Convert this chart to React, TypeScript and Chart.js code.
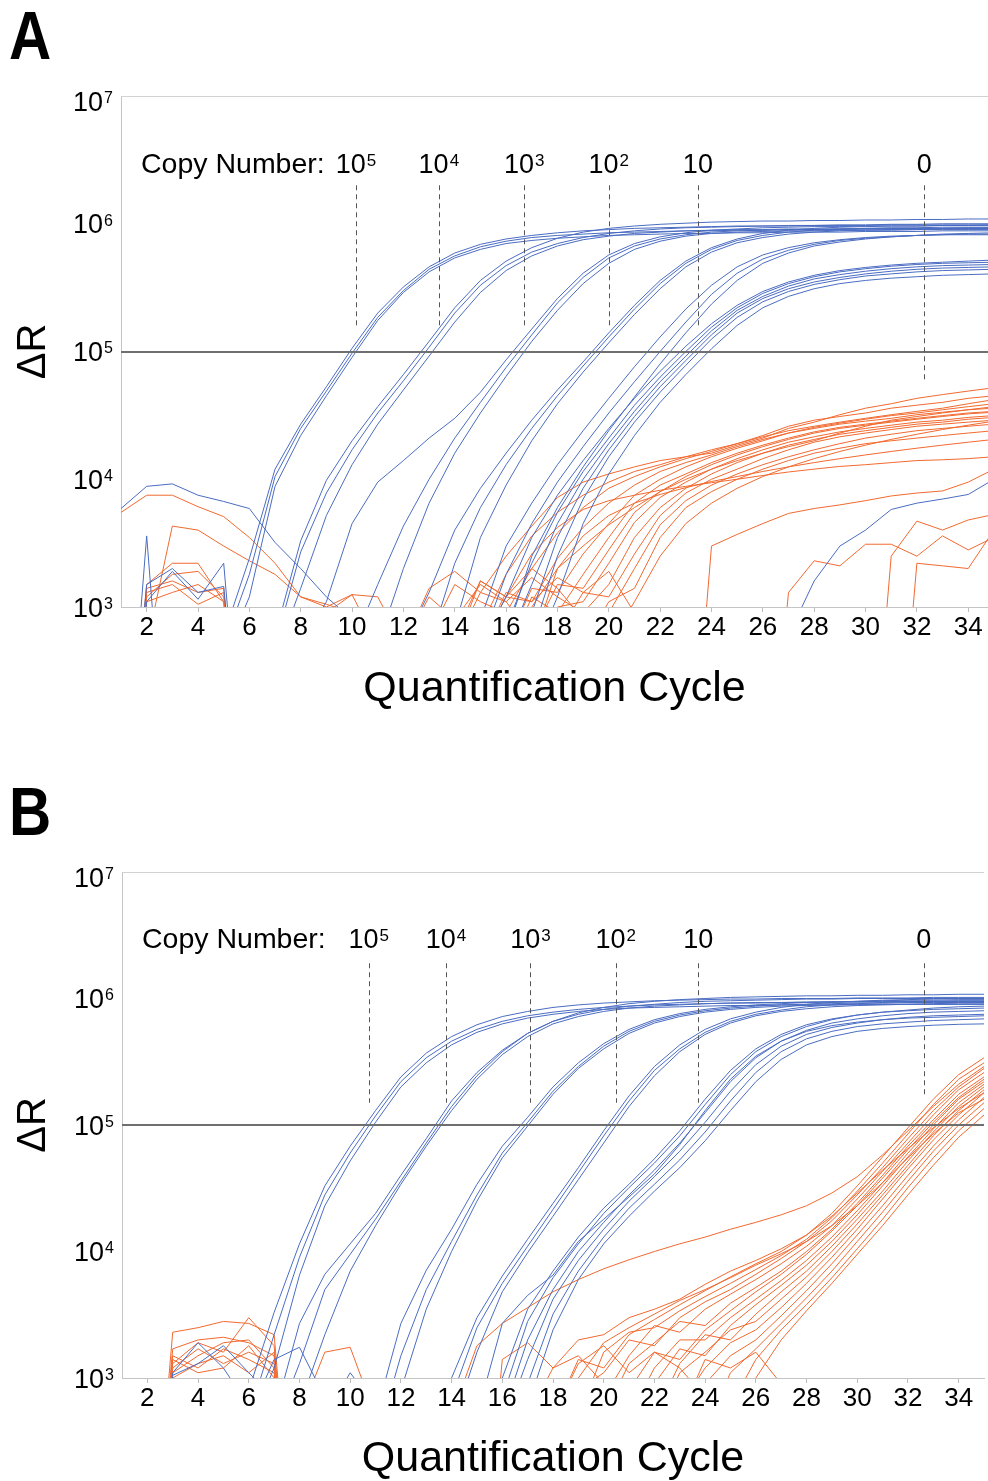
import { useEffect, useRef } from 'react';
import { Chart, registerables } from 'chart.js';

Chart.register(...registerables);

const FONT = "'Liberation Sans', Arial, Helvetica, sans-serif";
const BLUE = '#4a6cc2';
const ORANGE = '#f2692f';

type Curve = { start: number; values: number[] };

// ---- shared axis values ----
const X_TICKS = [2, 4, 6, 8, 10, 12, 14, 16, 18, 20, 22, 24, 26, 28, 30, 32, 34];
const Y_TICKS = [1e3, 1e4, 1e5, 1e6, 1e7];
const THRESHOLD = 1e5;
const LABEL_LEVEL = 2.5e6;
const COPY_BASE = ['10', '10', '10', '10', '10', '0'];
const COPY_EXP = ['5', '4', '3', '2', '', ''];

// ---- panel A: copy-number markers ----
const CQ_A = [10.15, 13.38, 16.71, 20.0, 23.47, 32.29];
const DASH_TOP_A = 2.0e6;
const DASH_BOTTOM_A = [1.6e5, 1.6e5, 1.6e5, 1.6e5, 1.6e5, 5.8e4];

// ---- panel A: standards (blue) ----
const A_BLUE_01: Curve = { start: 5, values: [600, 2.4e3, 1.2e4, 2.7e4, 5.3e4, 1.06e5, 2.0e5, 3.2e5, 4.6e5, 5.9e5, 6.9e5, 7.6e5, 8.1e5, 8.5e5, 8.8e5, 9.0e5, 9.2e5, 9.3e5, 9.4e5, 9.5e5, 9.6e5, 9.6e5, 9.7e5, 9.7e5, 9.8e5, 9.8e5, 9.9e5, 9.9e5, 1.0e6, 1.0e6, 1.0e6] };
const A_BLUE_02: Curve = { start: 5, values: [500, 1.8e3, 1.05e4, 2.5e4, 4.9e4, 9.7e4, 1.85e5, 3.0e5, 4.4e5, 5.6e5, 6.6e5, 7.3e5, 7.8e5, 8.1e5, 8.3e5, 8.5e5, 8.6e5, 8.7e5, 8.8e5, 8.8e5, 8.9e5, 8.9e5, 9.0e5, 9.0e5, 9.0e5, 9.1e5, 9.1e5, 9.1e5, 9.2e5, 9.2e5, 9.2e5] };
const A_BLUE_03: Curve = { start: 5, values: [400, 1.2e3, 8.8e3, 2.2e4, 4.5e4, 9.0e4, 1.75e5, 2.9e5, 4.2e5, 5.4e5, 6.3e5, 7.0e5, 7.4e5, 7.7e5, 7.9e5, 8.1e5, 8.2e5, 8.3e5, 8.4e5, 8.4e5, 8.5e5, 8.5e5, 8.6e5, 8.6e5, 8.6e5, 8.7e5, 8.7e5, 8.7e5, 8.8e5, 8.8e5, 8.8e5] };
const A_BLUE_04: Curve = { start: 7, values: [600, 3.3e3, 9.8e3, 2.0e4, 3.7e4, 6.6e4, 1.2e5, 2.2e5, 3.6e5, 5.1e5, 6.5e5, 7.7e5, 8.6e5, 9.2e5, 9.6e5, 9.9e5, 1.01e6, 1.03e6, 1.04e6, 1.05e6, 1.05e6, 1.06e6, 1.06e6, 1.07e6, 1.07e6, 1.08e6, 1.08e6, 1.09e6, 1.09e6] };
const A_BLUE_05: Curve = { start: 7, values: [500, 2.7e3, 7.8e3, 1.7e4, 3.3e4, 5.9e4, 1.08e5, 2.0e5, 3.3e5, 4.7e5, 6.0e5, 7.0e5, 7.8e5, 8.4e5, 8.8e5, 9.1e5, 9.3e5, 9.4e5, 9.5e5, 9.6e5, 9.6e5, 9.7e5, 9.7e5, 9.7e5, 9.8e5, 9.8e5, 9.8e5, 9.8e5, 9.8e5] };
const A_BLUE_06: Curve = { start: 7, values: [400, 1.4e3, 5.2e3, 1.3e4, 2.7e4, 5.0e4, 9.2e4, 1.7e5, 2.9e5, 4.3e5, 5.6e5, 6.7e5, 7.5e5, 8.0e5, 8.4e5, 8.6e5, 8.8e5, 8.9e5, 9.0e5, 9.0e5, 9.1e5, 9.1e5, 9.1e5, 9.2e5, 9.2e5, 9.2e5, 9.2e5, 9.3e5, 9.3e5] };
const A_BLUE_07: Curve = { start: 8, values: [500, 1.1e3, 4.5e3, 9.5e3, 1.4e4, 2.1e4, 3.0e4, 4.8e4, 8.6e4, 1.5e5, 2.6e5, 4.1e5, 5.7e5, 7.0e5, 7.9e5, 8.5e5, 8.9e5, 9.1e5, 9.3e5, 9.4e5, 9.5e5, 9.5e5, 9.6e5, 9.6e5, 9.6e5, 9.7e5, 9.7e5, 9.7e5] };
const A_BLUE_08: Curve = { start: 10, values: [500, 1.5e3, 4.3e3, 1.0e4, 2.1e4, 4.0e4, 7.5e4, 1.35e5, 2.4e5, 3.8e5, 5.4e5, 6.7e5, 7.6e5, 8.2e5, 8.6e5, 8.8e5, 8.9e5, 9.0e5, 9.0e5, 9.1e5, 9.1e5, 9.1e5, 9.2e5, 9.2e5, 9.2e5, 9.2e5] };
const A_BLUE_09: Curve = { start: 11, values: [500, 2.0e3, 6.5e3, 1.6e4, 3.3e4, 6.4e4, 1.2e5, 2.1e5, 3.4e5, 4.9e5, 6.3e5, 7.3e5, 8.0e5, 8.4e5, 8.6e5, 8.7e5, 8.8e5, 8.8e5, 8.9e5, 8.9e5, 8.9e5, 9.0e5, 9.0e5, 9.0e5, 9.0e5] };
const A_BLUE_10: Curve = { start: 12, values: [500, 1.3e3, 4.0e3, 8.5e3, 1.6e4, 2.9e4, 5.0e4, 8.3e4, 1.4e5, 2.3e5, 3.6e5, 5.1e5, 6.5e5, 7.6e5, 8.4e5, 8.9e5, 9.2e5, 9.4e5, 9.5e5, 9.6e5, 9.6e5, 9.7e5, 9.7e5, 9.8e5] };
const A_BLUE_11: Curve = { start: 13, values: [500, 2.2e3, 6.0e3, 1.3e4, 2.5e4, 4.5e4, 7.7e4, 1.3e5, 2.15e5, 3.4e5, 4.9e5, 6.3e5, 7.4e5, 8.1e5, 8.6e5, 8.9e5, 9.1e5, 9.2e5, 9.3e5, 9.3e5, 9.4e5, 9.4e5, 9.4e5] };
const A_BLUE_12: Curve = { start: 14, values: [700, 3.5e3, 9.0e3, 2.0e4, 3.9e4, 6.9e4, 1.17e5, 1.95e5, 3.1e5, 4.6e5, 6.0e5, 7.1e5, 7.8e5, 8.3e5, 8.6e5, 8.8e5, 8.9e5, 9.0e5, 9.0e5, 9.1e5, 9.1e5, 9.1e5] };
const A_BLUE_13: Curve = { start: 15, values: [500, 1.8e3, 4.5e3, 9.5e3, 1.8e4, 3.3e4, 5.8e4, 1.0e5, 1.7e5, 2.8e5, 4.1e5, 5.3e5, 6.2e5, 6.9e5, 7.4e5, 7.7e5, 7.9e5, 8.1e5, 8.2e5, 8.3e5, 8.3e5] };
const A_BLUE_14: Curve = { start: 16, values: [600, 2.5e3, 6.0e3, 1.25e4, 2.4e4, 4.4e4, 8.0e4, 1.4e5, 2.35e5, 3.6e5, 4.9e5, 5.9e5, 6.7e5, 7.2e5, 7.6e5, 7.9e5, 8.1e5, 8.3e5, 8.4e5, 8.5e5] };
const A_BLUE_15: Curve = { start: 15, values: [800, 3.0e3, 6.5e3, 1.3e4, 2.4e4, 4.3e4, 7.6e4, 1.3e5, 2.15e5, 3.3e5, 4.6e5, 5.7e5, 6.5e5, 7.1e5, 7.5e5, 7.8e5, 8.0e5, 8.1e5, 8.2e5, 8.2e5, 8.2e5] };
const A_BLUE_16: Curve = { start: 15, values: [500, 1.2e3, 3.5e3, 7.5e3, 1.4e4, 2.5e4, 4.3e4, 7.0e4, 1.1e5, 1.65e5, 2.3e5, 2.95e5, 3.5e5, 3.95e5, 4.3e5, 4.55e5, 4.75e5, 4.9e5, 5.0e5, 5.1e5, 5.2e5] };
const A_BLUE_17: Curve = { start: 16, values: [700, 2.2e3, 5.5e3, 1.15e4, 2.1e4, 3.8e4, 6.3e4, 1.0e5, 1.55e5, 2.2e5, 2.85e5, 3.4e5, 3.85e5, 4.2e5, 4.45e5, 4.65e5, 4.8e5, 4.9e5, 4.95e5, 5.0e5] };
const A_BLUE_18: Curve = { start: 16, values: [500, 1.5e3, 4.5e3, 1.0e4, 1.9e4, 3.4e4, 5.8e4, 9.2e4, 1.45e5, 2.1e5, 2.7e5, 3.25e5, 3.7e5, 4.0e5, 4.25e5, 4.45e5, 4.6e5, 4.7e5, 4.75e5, 4.8e5] };
const A_BLUE_19: Curve = { start: 17, values: [900, 3.5e3, 8.5e3, 1.7e4, 3.1e4, 5.3e4, 8.5e4, 1.35e5, 2.0e5, 2.6e5, 3.1e5, 3.5e5, 3.8e5, 4.05e5, 4.25e5, 4.4e5, 4.5e5, 4.55e5, 4.6e5] };
const A_BLUE_20: Curve = { start: 17, values: [600, 2.5e3, 7.0e3, 1.5e4, 2.8e4, 4.8e4, 7.8e4, 1.25e5, 1.85e5, 2.45e5, 2.95e5, 3.35e5, 3.65e5, 3.9e5, 4.05e5, 4.2e5, 4.3e5, 4.35e5, 4.4e5] };
const A_BLUE_21: Curve = { start: 17, values: [400, 1.2e3, 4.5e3, 1.1e4, 2.2e4, 4.0e4, 6.6e4, 1.05e5, 1.6e5, 2.2e5, 2.7e5, 3.1e5, 3.4e5, 3.6e5, 3.75e5, 3.85e5, 3.95e5, 4.0e5, 4.05e5] };
const A_BLUE_22: Curve = { start: 1, values: [5.9e3, 8.8e3, 9.2e3, 7.5e3, 6.7e3, 5.9e3, 3.2e3, 2.0e3, 1.2e3, 800, 500] };
const A_BLUE_23: Curve = { start: 27, values: [600, 1.6e3, 3.0e3, 4.0e3, 5.8e3, 6.5e3, 7.0e3, 7.6e3, 1.0e4] };
const A_BLUE_24: Curve = { start: 1, values: [10, 3.6e3, 10] };
const A_BLUE_25: Curve = { start: 1, values: [10, 1.5e3, 2.0e3, 1.3e3, 1.45e3, 10] };
const A_BLUE_26: Curve = { start: 1, values: [10, 1.1e3, 1.9e3, 1.15e3, 2.2e3, 10] };

// ---- panel A: no-template / background (orange) ----
const A_ORANGE_01: Curve = { start: 14, values: [500, 1.3e3, 2.5e3, 4.3e3, 7.2e3, 9.5e3, 1.1e4, 1.25e4, 1.4e4, 1.5e4, 1.6e4, 1.85e4, 2.1e4, 2.5e4, 2.8e4, 3.2e4, 3.6e4, 3.9e4, 4.3e4, 4.6e4, 4.9e4, 5.2e4] };
const A_ORANGE_02: Curve = { start: 15, values: [700, 1.8e3, 3.6e3, 5.5e3, 7.5e3, 9.5e3, 1.15e4, 1.3e4, 1.5e4, 1.7e4, 1.9e4, 2.2e4, 2.6e4, 2.9e4, 3.1e4, 3.3e4, 3.6e4, 3.8e4, 4.0e4, 4.3e4, 4.5e4] };
const A_ORANGE_03: Curve = { start: 13, values: [600, 1.5e3, 1.1e3, 900, 2.0e3, 3.8e3, 6.0e3, 8.5e3, 1.05e4, 1.25e4, 1.45e4, 1.65e4, 1.9e4, 2.15e4, 2.4e4, 2.6e4, 2.8e4, 3.0e4, 3.2e4, 3.4e4, 3.6e4, 3.9e4, 4.2e4] };
const A_ORANGE_04: Curve = { start: 14, values: [500, 1.6e3, 1.2e3, 1.1e3, 2.4e3, 4.2e3, 6.5e3, 9.0e3, 1.15e4, 1.35e4, 1.55e4, 1.8e4, 2.05e4, 2.3e4, 2.55e4, 2.75e4, 2.95e4, 3.15e4, 3.3e4, 3.5e4, 3.7e4, 3.9e4] };
const A_ORANGE_05: Curve = { start: 16, values: [500, 1.4e3, 1.3e3, 2.6e3, 4.5e3, 7.5e3, 1.0e4, 1.25e4, 1.5e4, 1.75e4, 2.0e4, 2.3e4, 2.5e4, 2.7e4, 2.85e4, 3.0e4, 3.2e4, 3.35e4, 3.5e4, 3.6e4] };
const A_ORANGE_06: Curve = { start: 16, values: [400, 1.2e3, 900, 1.8e3, 3.5e3, 6.5e3, 9.0e3, 1.1e4, 1.35e4, 1.6e4, 1.85e4, 2.1e4, 2.35e4, 2.55e4, 2.7e4, 2.85e4, 3.0e4, 3.15e4, 3.3e4, 3.4e4] };
const A_ORANGE_07: Curve = { start: 17, values: [600, 1.5e3, 1.4e3, 2.8e3, 5.5e3, 8.0e3, 1.05e4, 1.3e4, 1.55e4, 1.8e4, 2.05e4, 2.3e4, 2.5e4, 2.65e4, 2.8e4, 2.95e4, 3.1e4, 3.25e4, 3.35e4] };
const A_ORANGE_08: Curve = { start: 17, values: [500, 1.0e3, 1.1e3, 2.2e3, 4.6e3, 7.2e3, 9.5e3, 1.2e4, 1.45e4, 1.7e4, 1.95e4, 2.15e4, 2.35e4, 2.5e4, 2.65e4, 2.8e4, 2.9e4, 3.05e4, 3.15e4] };
const A_ORANGE_09: Curve = { start: 12, values: [500, 1.2e3, 800, 1.5e3, 1.1e3, 1.7e3, 1.2e3, 900, 1.5e3, 3.5e3, 6.0e3, 8.5e3, 1.1e4, 1.35e4, 1.6e4, 1.85e4, 2.05e4, 2.25e4, 2.4e4, 2.55e4, 2.7e4, 2.8e4, 2.95e4, 3.05e4] };
const A_ORANGE_10: Curve = { start: 18, values: [600, 1.3e3, 1.2e3, 2.6e3, 5.2e3, 7.8e3, 1.0e4, 1.2e4, 1.45e4, 1.7e4, 1.95e4, 2.15e4, 2.3e4, 2.45e4, 2.6e4, 2.7e4, 2.8e4, 2.9e4] };
const A_ORANGE_11: Curve = { start: 18, values: [400, 900, 900, 2.0e3, 4.4e3, 6.8e3, 9.0e3, 1.1e4, 1.3e4, 1.5e4, 1.7e4, 1.9e4, 2.1e4, 2.25e4, 2.4e4, 2.5e4, 2.6e4, 2.7e4] };
const A_ORANGE_12: Curve = { start: 19, values: [500, 1.1e3, 1.4e3, 3.5e3, 6.0e3, 8.0e3, 1.0e4, 1.2e4, 1.4e4, 1.6e4, 1.75e4, 1.9e4, 2.0e4, 2.1e4, 2.2e4, 2.3e4, 2.4e4] };
const A_ORANGE_13: Curve = { start: 16, values: [500, 1.0e3, 2.0e3, 3.6e3, 5.2e3, 6.5e3, 7.6e3, 8.6e3, 9.6e3, 1.05e4, 1.15e4, 1.25e4, 1.35e4, 1.45e4, 1.55e4, 1.65e4, 1.75e4, 1.85e4, 1.95e4, 2.05e4] };
const A_ORANGE_14: Curve = { start: 15, values: [500, 1.2e3, 2.6e3, 4.2e3, 5.8e3, 6.8e3, 7.5e3, 8.2e3, 8.8e3, 9.4e3, 1.0e4, 1.07e4, 1.14e4, 1.2e4, 1.26e4, 1.3e4, 1.35e4, 1.4e4, 1.42e4, 1.45e4, 1.5e4] };
const A_ORANGE_15: Curve = { start: 20, values: [500, 1.1e3, 2.5e3, 4.5e3, 6.5e3, 8.5e3, 1.05e4, 1.25e4, 1.45e4, 1.65e4, 1.85e4, 2.05e4, 2.25e4, 2.45e4, 2.65e4, 2.85e4] };
const A_ORANGE_16: Curve = { start: 23, values: [10, 3.0e3, 3.7e3, 4.5e3, 5.4e3, 5.9e3, 6.3e3, 6.8e3, 7.4e3, 7.8e3, 8.1e3, 9.5e3, 1.2e4] };
const A_ORANGE_17: Curve = { start: 26, values: [10, 1.3e3, 2.3e3, 2.1e3, 3.1e3, 3.1e3, 2.5e3, 3.6e3, 2.8e3, 3.5e3] };
const A_ORANGE_18: Curve = { start: 31, values: [10, 2.2e3, 2.1e3, 2.0e3, 4.0e3] };
const A_ORANGE_19: Curve = { start: 30, values: [10, 2.5e3, 4.7e3, 4.0e3, 4.8e3, 5.3e3] };
const A_ORANGE_20: Curve = { start: 17, values: [500, 2.0e3, 3.0e3, 4.4e3, 6.0e3, 8.0e3, 1.0e4, 1.2e4, 1.4e4, 1.6e4, 1.8e4, 2.0e4, 2.3e4, 2.6e4, 2.9e4, 3.1e4, 3.3e4, 3.5e4, 3.7e4] };
const A_ORANGE_21: Curve = { start: 1, values: [5.5e3, 7.5e3, 7.5e3, 6.1e3, 5.1e3, 3.5e3, 2.2e3, 1.2e3, 1.0e3, 1.25e3, 500] };
const A_ORANGE_22: Curve = { start: 2, values: [500, 4.3e3, 4.0e3, 3.0e3, 2.3e3, 1.8e3, 1.2e3, 1.05e3, 900, 500] };
const A_ORANGE_23: Curve = { start: 1, values: [10, 1.5e3, 2.2e3, 2.2e3, 1.1e3, 10] };
const A_ORANGE_24: Curve = { start: 1, values: [10, 1.2e3, 1.8e3, 1.9e3, 1.2e3, 10] };
const A_ORANGE_25: Curve = { start: 1, values: [10, 1.4e3, 1.6e3, 1.3e3, 1.4e3, 10] };
const A_ORANGE_26: Curve = { start: 1, values: [10, 1.1e3, 1.3e3, 1.5e3, 1.1e3, 10] };
const A_ORANGE_27: Curve = { start: 1, values: [10, 1.3e3, 1.5e3, 1.05e3, 1.3e3, 10] };
const A_ORANGE_28: Curve = { start: 8, values: [500, 900, 1.25e3, 1.2e3, 500] };
const A_ORANGE_29: Curve = { start: 12, values: [500, 1.4e3, 1.9e3, 1.3e3, 1.1e3, 600] };
const A_ORANGE_30: Curve = { start: 14, values: [600, 1.6e3, 1.2e3, 2.0e3, 1.4e3, 800] };
const A_ORANGE_31: Curve = { start: 15, values: [500, 1.3e3, 1.1e3, 1.7e3, 1.3e3, 1.9e3, 900] };

// ---- panel B: copy-number markers ----
const CQ_B = [10.73, 13.78, 17.11, 20.47, 23.73, 32.62];
const DASH_TOP_B = 1.9e6;
const DASH_BOTTOM_B = [1.5e5, 1.5e5, 1.5e5, 1.5e5, 1.5e5, 1.65e5];

// ---- panel B: standards (blue) ----
const B_BLUE_01: Curve = { start: 6, values: [800, 3.3e3, 1.15e4, 3.3e4, 6.8e4, 1.3e5, 2.4e5, 3.7e5, 5.0e5, 6.2e5, 7.2e5, 7.9e5, 8.5e5, 8.9e5, 9.2e5, 9.4e5, 9.6e5, 9.7e5, 9.8e5, 9.9e5, 9.9e5, 1.0e6, 1.0e6, 1.0e6, 1.01e6, 1.01e6, 1.01e6, 1.02e6, 1.02e6, 1.02e6] };
const B_BLUE_02: Curve = { start: 6, values: [500, 2.2e3, 9.0e3, 2.8e4, 6.0e4, 1.18e5, 2.2e5, 3.4e5, 4.6e5, 5.7e5, 6.6e5, 7.3e5, 7.8e5, 8.2e5, 8.5e5, 8.7e5, 8.9e5, 9.0e5, 9.1e5, 9.2e5, 9.2e5, 9.3e5, 9.3e5, 9.4e5, 9.4e5, 9.4e5, 9.5e5, 9.5e5, 9.5e5, 9.5e5] };
const B_BLUE_03: Curve = { start: 6, values: [400, 1.2e3, 6.5e3, 2.3e4, 5.2e4, 1.05e5, 2.0e5, 3.1e5, 4.3e5, 5.4e5, 6.3e5, 7.0e5, 7.5e5, 7.9e5, 8.2e5, 8.4e5, 8.5e5, 8.6e5, 8.7e5, 8.8e5, 8.8e5, 8.9e5, 8.9e5, 8.9e5, 9.0e5, 9.0e5, 9.0e5, 9.0e5, 9.0e5, 9.0e5] };
const B_BLUE_04: Curve = { start: 7, values: [500, 2.7e3, 6.6e3, 1.15e4, 2.0e4, 4.0e4, 7.8e4, 1.55e5, 2.6e5, 3.9e5, 5.3e5, 6.6e5, 7.7e5, 8.5e5, 9.1e5, 9.5e5, 9.8e5, 1.0e6, 1.02e6, 1.03e6, 1.04e6, 1.05e6, 1.05e6, 1.06e6, 1.06e6, 1.07e6, 1.07e6, 1.08e6, 1.08e6] };
const B_BLUE_05: Curve = { start: 7, values: [400, 1.3e3, 5.0e3, 9.5e3, 1.8e4, 3.6e4, 7.2e4, 1.4e5, 2.45e5, 3.8e5, 5.3e5, 6.6e5, 7.5e5, 8.2e5, 8.7e5, 9.0e5, 9.3e5, 9.5e5, 9.6e5, 9.7e5, 9.8e5, 9.9e5, 9.9e5, 1.0e6, 1.0e6, 1.0e6, 1.0e6, 1.0e6, 1.0e6] };
const B_BLUE_06: Curve = { start: 8, values: [600, 2.2e3, 7.0e3, 1.6e4, 3.4e4, 6.8e4, 1.3e5, 2.3e5, 3.6e5, 5.0e5, 6.3e5, 7.2e5, 7.9e5, 8.4e5, 8.7e5, 8.9e5, 9.1e5, 9.2e5, 9.3e5, 9.3e5, 9.4e5, 9.4e5, 9.4e5, 9.5e5, 9.5e5, 9.5e5, 9.5e5, 9.5e5] };
const B_BLUE_07: Curve = { start: 11, values: [500, 2.7e3, 7.1e3, 1.5e4, 3.4e4, 6.8e4, 1.15e5, 2.0e5, 3.1e5, 4.4e5, 5.7e5, 6.8e5, 7.6e5, 8.2e5, 8.6e5, 8.9e5, 9.1e5, 9.3e5, 9.4e5, 9.5e5, 9.6e5, 9.7e5, 9.7e5, 9.8e5, 9.8e5] };
const B_BLUE_08: Curve = { start: 11, values: [300, 1.5e3, 5.0e3, 1.2e4, 2.8e4, 6.0e4, 1.05e5, 1.85e5, 2.9e5, 4.2e5, 5.5e5, 6.6e5, 7.4e5, 8.0e5, 8.4e5, 8.7e5, 8.9e5, 9.0e5, 9.1e5, 9.2e5, 9.2e5, 9.3e5, 9.3e5, 9.3e5, 9.3e5] };
const B_BLUE_09: Curve = { start: 12, values: [800, 3.5e3, 1.0e4, 2.5e4, 5.5e4, 9.8e4, 1.75e5, 2.8e5, 4.0e5, 5.3e5, 6.4e5, 7.2e5, 7.8e5, 8.2e5, 8.5e5, 8.7e5, 8.8e5, 8.9e5, 8.9e5, 9.0e5, 9.0e5, 9.0e5, 9.0e5, 9.0e5] };
const B_BLUE_10: Curve = { start: 13, values: [300, 1.0e3, 3.0e3, 6.4e3, 1.25e4, 2.4e4, 4.6e4, 9.0e4, 1.7e5, 2.9e5, 4.3e5, 5.7e5, 6.9e5, 7.8e5, 8.5e5, 9.0e5, 9.3e5, 9.5e5, 9.7e5, 9.8e5, 9.9e5, 1.0e6, 1.0e6] };
const B_BLUE_11: Curve = { start: 13, values: [300, 700, 2.5e3, 5.6e3, 1.1e4, 2.15e4, 4.2e4, 8.2e4, 1.55e5, 2.7e5, 4.0e5, 5.4e5, 6.6e5, 7.5e5, 8.1e5, 8.6e5, 8.9e5, 9.1e5, 9.3e5, 9.4e5, 9.5e5, 9.6e5, 9.6e5] };
const B_BLUE_12: Curve = { start: 14, values: [400, 1.6e3, 4.8e3, 9.8e3, 1.9e4, 3.7e4, 7.2e4, 1.4e5, 2.45e5, 3.8e5, 5.2e5, 6.4e5, 7.3e5, 7.9e5, 8.3e5, 8.6e5, 8.8e5, 8.9e5, 9.0e5, 9.1e5, 9.2e5, 9.2e5] };
const B_BLUE_13: Curve = { start: 15, values: [500, 2.7e3, 4.5e3, 6.5e3, 1.2e4, 1.8e4, 2.7e4, 4.1e4, 7.0e4, 1.3e5, 2.3e5, 3.5e5, 4.6e5, 5.5e5, 6.1e5, 6.5e5, 6.8e5, 7.0e5, 7.1e5, 7.2e5, 7.3e5] };
const B_BLUE_14: Curve = { start: 15, values: [300, 1.0e3, 3.5e3, 7.0e3, 1.3e4, 2.2e4, 3.4e4, 5.4e4, 9.0e4, 1.6e5, 2.7e5, 4.0e5, 5.2e5, 6.2e5, 6.9e5, 7.4e5, 7.8e5, 8.0e5, 8.2e5, 8.3e5, 8.4e5] };
const B_BLUE_15: Curve = { start: 15, values: [300, 700, 2.8e3, 6.2e3, 1.15e4, 2.0e4, 3.2e4, 5.0e4, 8.2e4, 1.45e5, 2.5e5, 3.8e5, 5.0e5, 6.0e5, 6.8e5, 7.4e5, 7.8e5, 8.1e5, 8.4e5, 8.6e5, 8.7e5] };
const B_BLUE_16: Curve = { start: 16, values: [500, 2.0e3, 5.0e3, 1.0e4, 1.7e4, 2.8e4, 4.4e4, 7.2e4, 1.25e5, 2.2e5, 3.4e5, 4.6e5, 5.6e5, 6.4e5, 6.9e5, 7.3e5, 7.6e5, 7.8e5, 7.9e5, 8.0e5] };
const B_BLUE_17: Curve = { start: 16, values: [400, 1.4e3, 4.2e3, 8.5e3, 1.5e4, 2.5e4, 3.9e4, 6.2e4, 1.05e5, 1.85e5, 3.0e5, 4.2e5, 5.2e5, 5.9e5, 6.4e5, 6.8e5, 7.1e5, 7.3e5, 7.4e5, 7.5e5] };
const B_BLUE_18: Curve = { start: 16, values: [300, 900, 3.2e3, 7.0e3, 1.3e4, 2.2e4, 3.4e4, 5.3e4, 8.8e4, 1.55e5, 2.6e5, 3.8e5, 4.8e5, 5.5e5, 6.0e5, 6.3e5, 6.5e5, 6.7e5, 6.8e5, 6.9e5] };
const B_BLUE_19: Curve = { start: 16, values: [200, 600, 2.4e3, 6.0e3, 1.15e4, 1.9e4, 3.0e4, 4.6e4, 7.5e4, 1.3e5, 2.2e5, 3.3e5, 4.3e5, 5.0e5, 5.5e5, 5.8e5, 6.0e5, 6.15e5, 6.25e5, 6.3e5] };
const B_BLUE_20: Curve = { start: 2, values: [10, 1.1e3, 1.9e3, 1.2e3, 600] };
const B_BLUE_21: Curve = { start: 2, values: [10, 1.05e3, 1.3e3, 1.8e3, 1.1e3, 700] };
const B_BLUE_22: Curve = { start: 6, values: [500, 1.4e3, 1.75e3, 700] };
const B_BLUE_23: Curve = { start: 9, values: [500, 1.1e3, 600] };

// ---- panel B: no-template / background (orange) ----
const B_ORANGE_01: Curve = { start: 14, values: [500, 1.8e3, 2.7e3, 3.6e3, 4.8e3, 6.0e3, 7.3e3, 8.6e3, 1.0e4, 1.15e4, 1.3e4, 1.5e4, 1.7e4, 1.95e4, 2.3e4, 2.9e4, 3.9e4, 5.8e4, 9.0e4, 1.4e5, 2.1e5, 2.9e5] };
const B_ORANGE_02: Curve = { start: 18, values: [500, 1.4e3, 1.2e3, 2.2e3, 2.9e3, 3.8e3, 4.9e3, 6.3e3, 8.0e3, 1.0e4, 1.35e4, 2.0e4, 3.3e4, 5.6e4, 9.5e4, 1.6e5, 2.5e5, 3.4e5] };
const B_ORANGE_03: Curve = { start: 19, values: [500, 1.6e3, 2.3e3, 2.5e3, 3.4e3, 4.4e3, 5.6e3, 7.2e3, 9.3e3, 1.25e4, 1.85e4, 3.0e4, 5.0e4, 8.5e4, 1.45e5, 2.3e5, 3.1e5] };
const B_ORANGE_04: Curve = { start: 19, values: [800, 1.1e3, 2.0e3, 1.8e3, 3.0e3, 4.0e3, 5.0e3, 6.6e3, 8.8e3, 1.2e4, 1.75e4, 2.8e4, 4.6e4, 7.8e4, 1.3e5, 2.0e5, 2.8e5] };
const B_ORANGE_05: Curve = { start: 20, values: [700, 1.5e3, 2.6e3, 2.3e3, 3.5e3, 4.6e3, 6.0e3, 8.0e3, 1.1e4, 1.6e4, 2.6e4, 4.3e4, 7.2e4, 1.2e5, 1.9e5, 2.6e5] };
const B_ORANGE_06: Curve = { start: 20, values: [500, 1.3e3, 1.9e3, 2.8e3, 2.6e3, 3.9e3, 5.2e3, 7.0e3, 1.0e4, 1.5e4, 2.4e4, 4.0e4, 6.8e4, 1.1e5, 1.75e5, 2.4e5] };
const B_ORANGE_07: Curve = { start: 21, values: [800, 1.6e3, 1.4e3, 2.4e3, 3.4e3, 4.8e3, 6.6e3, 9.5e3, 1.45e4, 2.3e4, 3.8e4, 6.4e4, 1.05e5, 1.65e5, 2.3e5] };
const B_ORANGE_08: Curve = { start: 21, values: [500, 1.2e3, 2.0e3, 2.0e3, 3.0e3, 4.2e3, 5.9e3, 8.5e3, 1.3e4, 2.1e4, 3.5e4, 6.0e4, 1.0e5, 1.6e5, 2.2e5] };
const B_ORANGE_09: Curve = { start: 22, values: [900, 1.7e3, 1.5e3, 2.6e3, 3.8e3, 5.4e3, 7.8e3, 1.2e4, 1.95e4, 3.3e4, 5.6e4, 9.3e4, 1.5e5, 2.1e5] };
const B_ORANGE_10: Curve = { start: 22, values: [500, 1.3e3, 2.2e3, 2.0e3, 3.2e3, 4.8e3, 7.0e3, 1.1e4, 1.8e4, 3.0e4, 5.2e4, 8.8e4, 1.4e5, 2.0e5] };
const B_ORANGE_11: Curve = { start: 22, values: [400, 1.1e3, 1.6e3, 2.4e3, 2.8e3, 4.2e3, 6.3e3, 1.0e4, 1.65e4, 2.8e4, 4.8e4, 8.2e4, 1.3e5, 1.9e5] };
const B_ORANGE_12: Curve = { start: 23, values: [600, 1.2e3, 1.9e3, 2.4e3, 3.6e3, 5.6e3, 9.0e3, 1.5e4, 2.6e4, 4.5e4, 7.6e4, 1.2e5, 1.8e5] };
const B_ORANGE_13: Curve = { start: 24, values: [900, 1.5e3, 2.0e3, 3.1e3, 4.9e3, 8.0e3, 1.35e4, 2.3e4, 4.0e4, 6.8e4, 1.1e5, 1.65e5] };
const B_ORANGE_14: Curve = { start: 24, values: [400, 1.1e3, 1.7e3, 2.7e3, 4.3e3, 7.0e3, 1.2e4, 2.05e4, 3.6e4, 6.2e4, 1.0e5, 1.5e5] };
const B_ORANGE_15: Curve = { start: 25, values: [600, 1.4e3, 2.4e3, 3.8e3, 6.2e3, 1.05e4, 1.8e4, 3.2e4, 5.5e4, 9.0e4, 1.35e5] };
const B_ORANGE_16: Curve = { start: 25, values: [300, 1.0e3, 2.0e3, 3.4e3, 5.6e3, 9.5e3, 1.6e4, 2.8e4, 4.8e4, 8.0e4, 1.2e5] };
const B_ORANGE_17: Curve = { start: 17, values: [500, 1.2e3, 2.0e3, 2.2e3, 3.0e3, 3.5e3, 4.2e3, 5.5e3, 7.0e3, 8.5e3, 1.05e4, 1.35e4, 1.9e4, 2.9e4, 4.4e4, 6.5e4, 9.5e4, 1.35e5, 1.8e5] };
const B_ORANGE_18: Curve = { start: 18, values: [400, 1.0e3, 1.9e3, 2.5e3, 3.2e3, 4.1e3, 5.0e3, 6.2e3, 7.8e3, 9.6e3, 1.2e4, 1.6e4, 2.3e4, 3.5e4, 5.5e4, 8.5e4, 1.25e5, 1.6e5] };
const B_ORANGE_19: Curve = { start: 2, values: [10, 2.3e3, 2.5e3, 2.8e3, 2.7e3, 2.2e3, 10] };
const B_ORANGE_20: Curve = { start: 2, values: [10, 1.7e3, 2.0e3, 2.1e3, 1.9e3, 1.5e3, 10] };
const B_ORANGE_21: Curve = { start: 2, values: [10, 1.3e3, 1.9e3, 1.6e3, 3.0e3, 1.8e3, 10] };
const B_ORANGE_22: Curve = { start: 2, values: [10, 1.1e3, 1.5e3, 1.9e3, 2.0e3, 1.2e3, 10] };
const B_ORANGE_23: Curve = { start: 2, values: [10, 1.5e3, 1.2e3, 1.7e3, 1.4e3, 1.1e3, 10] };
const B_ORANGE_24: Curve = { start: 2, values: [10, 1.2e3, 1.7e3, 1.3e3, 1.6e3, 1.3e3, 10] };
const B_ORANGE_25: Curve = { start: 2, values: [10, 1.0e3, 1.3e3, 1.5e3, 1.1e3, 1.6e3, 10] };
const B_ORANGE_26: Curve = { start: 2, values: [10, 1.4e3, 1.1e3, 1.2e3, 1.8e3, 1.0e3, 10] };
const B_ORANGE_27: Curve = { start: 8, values: [500, 1.6e3, 1.75e3, 500] };
const B_ORANGE_28: Curve = { start: 15, values: [10, 1.4e3, 1.9e3, 1.2e3, 1.5e3, 900, 400] };
const B_ORANGE_29: Curve = { start: 18, values: [500, 1.3e3, 1.8e3, 1.1e3, 1.6e3, 1.2e3, 700] };
const B_ORANGE_30: Curve = { start: 23, values: [500, 1.4e3, 1.2e3, 1.6e3, 900] };

const A_BLUE = [A_BLUE_01, A_BLUE_02, A_BLUE_03, A_BLUE_04, A_BLUE_05, A_BLUE_06, A_BLUE_07, A_BLUE_08, A_BLUE_09, A_BLUE_10, A_BLUE_11, A_BLUE_12, A_BLUE_13, A_BLUE_14, A_BLUE_15, A_BLUE_16, A_BLUE_17, A_BLUE_18, A_BLUE_19, A_BLUE_20, A_BLUE_21, A_BLUE_22, A_BLUE_23, A_BLUE_24, A_BLUE_25, A_BLUE_26];
const A_ORANGE = [A_ORANGE_01, A_ORANGE_02, A_ORANGE_03, A_ORANGE_04, A_ORANGE_05, A_ORANGE_06, A_ORANGE_07, A_ORANGE_08, A_ORANGE_09, A_ORANGE_10, A_ORANGE_11, A_ORANGE_12, A_ORANGE_13, A_ORANGE_14, A_ORANGE_15, A_ORANGE_16, A_ORANGE_17, A_ORANGE_18, A_ORANGE_19, A_ORANGE_20, A_ORANGE_21, A_ORANGE_22, A_ORANGE_23, A_ORANGE_24, A_ORANGE_25, A_ORANGE_26, A_ORANGE_27, A_ORANGE_28, A_ORANGE_29, A_ORANGE_30, A_ORANGE_31];
const B_BLUE = [B_BLUE_01, B_BLUE_02, B_BLUE_03, B_BLUE_04, B_BLUE_05, B_BLUE_06, B_BLUE_07, B_BLUE_08, B_BLUE_09, B_BLUE_10, B_BLUE_11, B_BLUE_12, B_BLUE_13, B_BLUE_14, B_BLUE_15, B_BLUE_16, B_BLUE_17, B_BLUE_18, B_BLUE_19, B_BLUE_20, B_BLUE_21, B_BLUE_22, B_BLUE_23];
const B_ORANGE = [B_ORANGE_01, B_ORANGE_02, B_ORANGE_03, B_ORANGE_04, B_ORANGE_05, B_ORANGE_06, B_ORANGE_07, B_ORANGE_08, B_ORANGE_09, B_ORANGE_10, B_ORANGE_11, B_ORANGE_12, B_ORANGE_13, B_ORANGE_14, B_ORANGE_15, B_ORANGE_16, B_ORANGE_17, B_ORANGE_18, B_ORANGE_19, B_ORANGE_20, B_ORANGE_21, B_ORANGE_22, B_ORANGE_23, B_ORANGE_24, B_ORANGE_25, B_ORANGE_26, B_ORANGE_27, B_ORANGE_28, B_ORANGE_29, B_ORANGE_30];

interface PanelSpec {
  blue: Curve[];
  orange: Curve[];
  xMax: number;
  cq: number[];
  dashTop: number;
  dashBottom: number[];
  // layout in canvas pixels
  canvasTop: number;
  canvasHeight: number;
  padTop: number;
  padRight: number;
  yAxisWidth: number;
  xAxisHeight: number;
  xTitlePad: number;
}

const PANEL_A: PanelSpec = {
  blue: A_BLUE, orange: A_ORANGE, xMax: 34.77, cq: CQ_A, dashTop: DASH_TOP_A, dashBottom: DASH_BOTTOM_A,
  canvasTop: 0, canvasHeight: 740, padTop: 96, padRight: 0, yAxisWidth: 121, xAxisHeight: 133, xTitlePad: 25,
};

const PANEL_B: PanelSpec = {
  blue: B_BLUE, orange: B_ORANGE, xMax: 35, cq: CQ_B, dashTop: DASH_TOP_B, dashBottom: DASH_BOTTOM_B,
  canvasTop: 740, canvasHeight: 760, padTop: 132, padRight: 4, yAxisWidth: 122, xAxisHeight: 122, xTitlePad: 15,
};

function toPoints(c: Curve) {
  return c.values.map((v, i) => ({ x: c.start + i, y: v }));
}

// "10" followed by a raised exponent whose top lines up with the digits' top
function drawPowerOfTen(ctx: CanvasRenderingContext2D, base: string, exp: string, cx: number, baseline: number, mainSize: number, supSize: number) {
  ctx.font = `${mainSize}px ${FONT}`;
  const wBase = ctx.measureText(base).width;
  ctx.font = `${supSize}px ${FONT}`;
  const wSup = exp ? ctx.measureText(exp).width + 1 : 0;
  const left = cx - (wBase + wSup) / 2;
  ctx.textAlign = 'left';
  ctx.textBaseline = 'alphabetic';
  ctx.font = `${mainSize}px ${FONT}`;
  ctx.fillText(base, left, baseline);
  if (exp) {
    ctx.font = `${supSize}px ${FONT}`;
    ctx.fillText(exp, left + wBase + 1, baseline - 0.716 * (mainSize - supSize));
  }
}

function makeOverlay(spec: PanelSpec) {
  return {
    id: 'qpcrOverlay',
    afterDatasetsDraw(chart: any) {
      const { ctx, chartArea: a, scales } = chart;
      const x = scales.x;
      const y = scales.y;
      ctx.save();
      // threshold
      const ty = Math.round(y.getPixelForValue(THRESHOLD));
      ctx.strokeStyle = '#6f6f6f';
      ctx.lineWidth = 2;
      ctx.beginPath();
      ctx.moveTo(a.left, ty);
      ctx.lineTo(a.right, ty);
      ctx.stroke();
      // Cq markers
      ctx.strokeStyle = '#555555';
      ctx.lineWidth = 1;
      ctx.setLineDash([5, 4]);
      spec.cq.forEach((c, i) => {
        const px = Math.round(x.getPixelForValue(c)) + 0.5;
        ctx.beginPath();
        ctx.moveTo(px, y.getPixelForValue(spec.dashTop));
        ctx.lineTo(px, y.getPixelForValue(spec.dashBottom[i]));
        ctx.stroke();
      });
      ctx.setLineDash([]);
      // labels
      ctx.fillStyle = '#000';
      const base = y.getPixelForValue(LABEL_LEVEL);
      ctx.font = `28.5px ${FONT}`;
      ctx.textAlign = 'left';
      ctx.textBaseline = 'alphabetic';
      ctx.fillText('Copy Number:', a.left + 20, base);
      spec.cq.forEach((c, i) => {
        drawPowerOfTen(ctx, COPY_BASE[i], COPY_EXP[i], x.getPixelForValue(c), base, 27, 17);
      });
      ctx.restore();
    },
    afterDraw(chart: any) {
      const { ctx, chartArea: a, scales } = chart;
      const y = scales.y;
      ctx.save();
      // top frame line
      ctx.strokeStyle = '#d2d2d2';
      ctx.lineWidth = 1;
      ctx.beginPath();
      ctx.moveTo(a.left, a.top + 0.5);
      ctx.lineTo(a.right, a.top + 0.5);
      ctx.stroke();
      // y tick labels as powers of ten
      ctx.fillStyle = '#000';
      Y_TICKS.forEach((v) => {
        const py = Math.max(y.getPixelForValue(v), a.top + 5);
        const exp = String(Math.round(Math.log10(v)));
        ctx.font = `27px ${FONT}`;
        const wBase = ctx.measureText('10').width;
        ctx.font = `16px ${FONT}`;
        const wSup = ctx.measureText(exp).width + 1;
        const right = a.left - 8;
        drawPowerOfTen(ctx, '10', exp, right - (wBase + wSup) / 2, py + 9.7, 27, 16);
      });
      ctx.restore();
    },
  };
}

function PanelChart({ spec }: { spec: PanelSpec }) {
  const ref = useRef<HTMLCanvasElement | null>(null);
  useEffect(() => {
    if (!ref.current) return;
    Chart.defaults.font.family = FONT;
    const datasets: any[] = [];
    spec.blue.forEach((c) => datasets.push({ data: toPoints(c), borderColor: BLUE, borderWidth: 1, pointRadius: 0, tension: 0, fill: false }));
    spec.orange.forEach((c) => datasets.push({ data: toPoints(c), borderColor: ORANGE, borderWidth: 1, pointRadius: 0, tension: 0, fill: false }));
    const chart = new Chart(ref.current, {
      type: 'line',
      data: { datasets },
      options: {
        responsive: false,
        animation: false,
        devicePixelRatio: 1,
        layout: { padding: { top: spec.padTop, right: spec.padRight, left: 0, bottom: 0 } },
        plugins: { legend: { display: false }, tooltip: { enabled: false } },
        events: [],
        scales: {
          x: {
            type: 'linear',
            min: 1,
            max: spec.xMax,
            afterBuildTicks: (s: any) => { s.ticks = X_TICKS.map((v) => ({ value: v })); },
            afterFit: (s: any) => { s.height = spec.xAxisHeight; },
            ticks: { color: '#000', font: { size: 26, family: FONT }, padding: 0, maxRotation: 0, autoSkip: false },
            grid: { display: true, drawOnChartArea: false, drawTicks: true, tickLength: 5, color: '#bdbdbd' },
            border: { display: true, color: '#c4c4c4', width: 1 },
            title: { display: true, text: 'Quantification Cycle', color: '#000', font: { size: 43, family: FONT }, padding: { top: 0, bottom: spec.xTitlePad } },
          },
          y: {
            type: 'logarithmic',
            min: 1e3,
            max: 1e7,
            afterBuildTicks: (s: any) => { s.ticks = Y_TICKS.map((v) => ({ value: v })); },
            afterFit: (s: any) => { s.width = spec.yAxisWidth; },
            ticks: { display: false },
            grid: { display: false },
            border: { display: true, color: '#c4c4c4', width: 1 },
            title: { display: true, text: 'ΔR', color: '#000', font: { size: 40, family: FONT }, padding: { top: 10, bottom: 0 } },
          },
        },
      } as any,
      plugins: [makeOverlay(spec)],
    });
    return () => chart.destroy();
  }, [spec]);
  return (
    <canvas
      ref={ref}
      width={988}
      height={spec.canvasHeight}
      style={{ position: 'absolute', left: 0, top: spec.canvasTop, width: 988, height: spec.canvasHeight }}
    />
  );
}

const letterStyle = (top: number): React.CSSProperties => ({
  position: 'absolute',
  left: 9,
  top,
  fontFamily: FONT,
  fontWeight: 'bold',
  fontSize: 68,
  lineHeight: 1,
  transform: 'scaleX(0.86)',
  transformOrigin: 'left top',
  color: '#000',
  zIndex: 2,
});

export default function App() {
  return (
    <div style={{ position: 'absolute', left: 0, top: 0, width: 988, height: 1481, overflow: 'hidden', background: '#fff' }}>
      <PanelChart spec={PANEL_A} />
      <PanelChart spec={PANEL_B} />
      <div style={letterStyle(1)}>A</div>
      <div style={letterStyle(777)}>B</div>
    </div>
  );
}
